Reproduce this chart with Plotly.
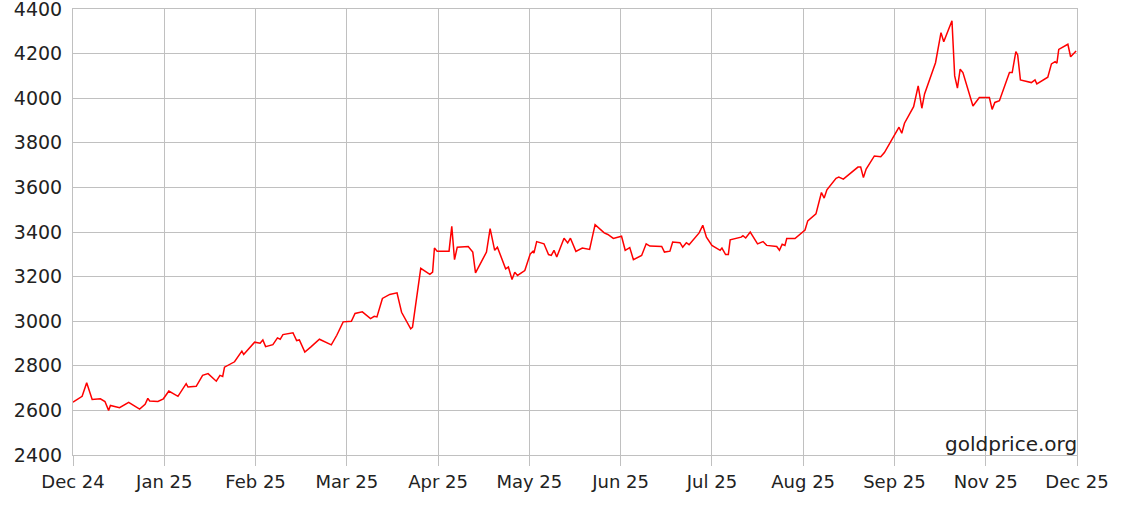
# Gold price chart, Dec 24 - Dec 25 (goldprice.org style)

import plotly.graph_objects as go

# x position in axis steps (0 = Dec 24, 11 = Dec 25), price in USD/oz
month_pos = [
    0.00, 0.10, 0.15, 0.21, 0.30, 0.35, 0.39, 0.41, 0.51, 0.61, 0.73, 0.79, 0.82, 0.84, 0.93, 0.99,
    1.05, 1.15, 1.24, 1.26, 1.35, 1.42, 1.48, 1.57, 1.61, 1.64, 1.66, 1.77, 1.85, 1.87, 1.99,
    2.05, 2.08, 2.11, 2.19, 2.24, 2.27, 2.30, 2.41, 2.45, 2.48, 2.54, 2.61, 2.70, 2.83, 2.89, 2.96,
    3.05, 3.09, 3.17, 3.26, 3.30, 3.33, 3.39, 3.47, 3.55, 3.60, 3.70, 3.72, 3.81, 3.91, 3.94, 3.96, 3.99,
    4.12, 4.15, 4.18, 4.21, 4.33, 4.38, 4.41, 4.53, 4.57, 4.62, 4.65, 4.74, 4.77, 4.81, 4.84, 4.87, 4.95,
    5.01, 5.04, 5.05, 5.08, 5.16, 5.21, 5.24, 5.27, 5.30, 5.38, 5.42, 5.45, 5.51, 5.58, 5.66, 5.72,
    5.82, 5.86, 5.92, 6.01, 6.05, 6.10, 6.14, 6.23, 6.28, 6.32, 6.45, 6.48, 6.54, 6.57, 6.65, 6.68,
    6.72, 6.75, 6.86, 6.90, 6.94, 7.00, 7.09, 7.11, 7.15, 7.18, 7.20, 7.32, 7.34, 7.37, 7.42, 7.50,
    7.56, 7.60, 7.71, 7.74, 7.77, 7.80, 7.82, 7.91, 7.98, 8.02, 8.05, 8.14, 8.20, 8.23, 8.26, 8.36,
    8.39, 8.44, 8.60, 8.63, 8.66, 8.69, 8.78, 8.85, 8.89, 9.05, 9.08, 9.11, 9.21, 9.26, 9.30, 9.33,
    9.45, 9.51, 9.54, 9.63, 9.66, 9.69, 9.72, 9.75, 9.86, 9.93, 10.04, 10.07, 10.10, 10.15, 10.26,
    10.29, 10.33, 10.35, 10.38, 10.50, 10.54, 10.56, 10.68, 10.72, 10.76, 10.78, 10.80, 10.90, 10.93, 10.99,
]
price = [
    2637, 2663, 2724, 2649, 2652, 2640, 2600, 2622, 2612, 2636, 2606, 2627, 2654, 2642, 2640, 2652,
    2687, 2663, 2720, 2705, 2708, 2757, 2765, 2731, 2757, 2752, 2794, 2818, 2866, 2851, 2906,
    2901, 2916, 2886, 2895, 2925, 2919, 2940, 2948, 2913, 2916, 2862, 2886, 2919, 2894, 2937, 2997,
    3000, 3035, 3042, 3012, 3022, 3019, 3102, 3120, 3127, 3040, 2966, 2973, 3237, 3210, 3220, 3328, 3314,
    3314, 3425, 3276, 3332, 3335, 3310, 3217, 3310, 3415, 3318, 3332, 3235, 3243, 3187, 3220, 3205, 3227,
    3302, 3314, 3305, 3357, 3347, 3299, 3295, 3318, 3288, 3372, 3351, 3372, 3313, 3328, 3322, 3433,
    3396, 3389, 3371, 3381, 3318, 3330, 3276, 3295, 3347, 3337, 3335, 3310, 3314, 3355, 3352, 3332,
    3352, 3343, 3396, 3430, 3377, 3340, 3318, 3328, 3299, 3299, 3365, 3377, 3383, 3373, 3400, 3347,
    3357, 3340, 3335, 3318, 3345, 3340, 3371, 3371, 3396, 3409, 3450, 3481, 3577, 3552, 3589, 3641,
    3646, 3637, 3691, 3691, 3644, 3682, 3741, 3738, 3756, 3870, 3843, 3888, 3962, 4055, 3955, 4019,
    4159, 4294, 4253, 4347, 4100, 4045, 4130, 4115, 3965, 4003, 4003, 3950, 3981, 3989, 4115,
    4115, 4209, 4194, 4082, 4070, 4082, 4064, 4094, 4154, 4164, 4157, 4219, 4242, 4186, 4212,
]

tick_labels = ["Dec 24", "Jan 25", "Feb 25", "Mar 25", "Apr 25", "May 25",
               "Jun 25", "Jul 25", "Aug 25", "Sep 25", "Nov 25", "Dec 25"]

GRID = "#c0c0c0"

fig = go.Figure(go.Scatter(x=month_pos, y=price, mode="lines",
                           line=dict(color="#ff0000", width=1.5),
                           hovertemplate="%{y}<extra></extra>"))

fig.update_xaxes(range=[0, 11], tickvals=list(range(len(tick_labels))), ticktext=tick_labels,
                 showgrid=True, gridcolor=GRID, gridwidth=1,
                 showline=True, linecolor=GRID, linewidth=1, mirror=True,
                 ticks="outside", ticklen=10, tickcolor=GRID, zeroline=False,
                 automargin=False, ticklabeloverflow="allow")
fig.update_yaxes(range=[2400, 4400], dtick=200, tickfont=dict(size=19),
                 showgrid=True, gridcolor=GRID, gridwidth=1,
                 showline=True, linecolor=GRID, linewidth=1, mirror=True,
                 ticks="", ticklabelstandoff=6, zeroline=False,
                 automargin=False, ticklabeloverflow="allow")

fig.add_annotation(text="goldprice.org", xref="paper", yref="paper", x=1, y=0,
                   xanchor="right", yanchor="bottom", showarrow=False,
                   font=dict(size=20, color="#222222"), xshift=2, yshift=-3)

fig.update_layout(width=1122, height=513, margin=dict(l=73, r=45, t=9, b=58),
                  paper_bgcolor="white", plot_bgcolor="white", showlegend=False,
                  font=dict(family="DejaVu Sans", size=18, color="#222222"))

# page has a default body margin; drop it so the figure sits at the window corner
fig.write_html("out.html", config={"displayModeBar": False},
               post_script="document.body.style.margin = '0px';")
